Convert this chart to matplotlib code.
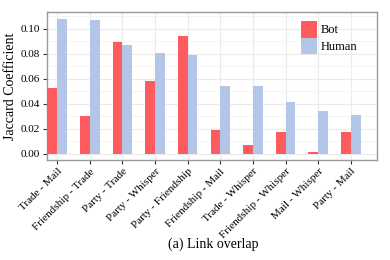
import matplotlib
matplotlib.use("Agg")
import matplotlib.pyplot as plt
import numpy as np

plt.rcParams['font.family'] = ['Liberation Serif', 'DejaVu Serif']

pairs = ["Trade - Mail", "Friendship - Trade", "Party - Trade", "Party - Whisper",
         "Party - Friendship", "Friendship - Mail", "Trade - Whisper",
         "Friendship - Whisper", "Mail - Whisper", "Party - Mail"]
bot = [0.0526, 0.0306, 0.0898, 0.0580, 0.0947, 0.0195, 0.0069, 0.0179, 0.0016, 0.0179]
human = [0.1078, 0.1070, 0.0872, 0.0805, 0.0795, 0.0547, 0.0547, 0.0416, 0.0344, 0.0312]

bot_color = '#fe5b5e'
human_color = '#b3c6e7'
frame_color = '#9a9a9a'

fig = plt.figure(figsize=(3.9, 2.6), dpi=100)
ax = fig.add_axes([0.1205, 0.385, 0.847, 0.569])

x = np.arange(len(pairs))
w = 0.3
ax.bar(x - w / 2, bot, w, color=bot_color, label='Bot', zorder=3)
ax.bar(x + w / 2, human, w, color=human_color, label='Human', zorder=3)

ax.set_xlim(-0.31, 9.81)
ax.set_ylim(-0.0048, 0.1136)
ax.set_yticks([0.0, 0.02, 0.04, 0.06, 0.08, 0.10])
ax.set_yticklabels(['0.00', '0.02', '0.04', '0.06', '0.08', '0.10'])
ax.set_yticks([0.01, 0.03, 0.05, 0.07, 0.09, 0.11], minor=True)
ax.set_xticks(x)
ax.set_xticklabels(pairs, rotation=45, ha='right', rotation_mode='anchor')

ax.grid(True, which='major', color='#ebebeb', linewidth=0.8, zorder=0)
ax.grid(True, which='minor', axis='y', color='#f3f3f3', linewidth=0.6, zorder=0)
ax.set_axisbelow(True)

for s in ax.spines.values():
    s.set_color(frame_color)
    s.set_linewidth(1.0)
ax.tick_params(axis='both', which='major', labelsize=8, color='#333333',
               length=3, width=0.8, direction='out', pad=2)
ax.tick_params(axis='y', which='minor', length=0)

ax.set_ylabel('Jaccard Coefficient', fontsize=10, labelpad=3)

leg = ax.legend(loc='upper right', frameon=False, fontsize=9,
                handlelength=1.25, handleheight=1.7, handletextpad=0.3,
                labelspacing=0.0, borderaxespad=0.3, bbox_to_anchor=(0.965, 1.0))

fig.text(0.547, 0.06, '(a) Link overlap', ha='center', va='center', fontsize=10)

fig.savefig('out.png', dpi=100)
